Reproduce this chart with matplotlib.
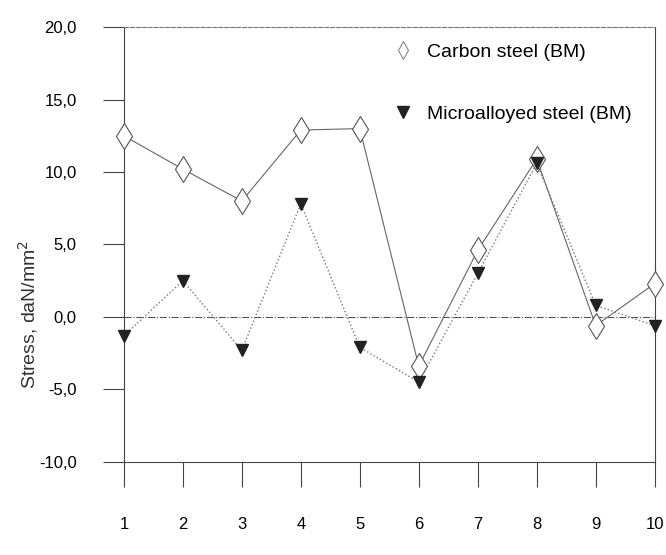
import matplotlib.pyplot as plt
from matplotlib.lines import Line2D

plt.rcParams['font.family'] = ['Liberation Sans', 'DejaVu Sans']

# data
samples = [1, 2, 3, 4, 5, 6, 7, 8, 9, 10]
carbon = [12.5, 10.2, 8.0, 12.9, 13.0, -3.4, 4.6, 10.9, -0.6, 2.3]
micro = [-1.3, 2.5, -2.3, 7.8, -2.1, -4.5, 3.0, 10.6, 0.8, -0.6]
yticks = [-10, -5, 0, 5, 10, 15, 20]
ytick_labels = ['-10,0', '-5,0', '0,0', '5,0', '10,0', '15,0', '20,0']

fig = plt.figure(figsize=(6.66, 5.55), dpi=100)
ax = fig.add_axes([0.186, 0.168, 0.797, 0.783])

ax.plot(samples, carbon, color='#666666', lw=0.8, marker='d', ms=13,
        mfc='white', mec='#555555', mew=0.8, clip_on=False, zorder=3)
ax.plot(samples, micro, color='#777777', lw=1.0, ls=':', marker='v', ms=8,
        mfc='#222222', mec='#222222', clip_on=False, zorder=4)

ax.axhline(0, color='#555555', lw=0.8, ls='-.', zorder=1)

ax.set_xlim(1, 10)
ax.set_ylim(-10, 20)
ax.set_xticks(samples)
ax.set_yticks(yticks)
ax.set_yticklabels(ytick_labels)
ax.tick_params(axis='x', direction='out', length=18, width=0.8, pad=22,
               labelsize=12, color='#444444')
ax.tick_params(axis='y', direction='out', length=15, width=0.8, pad=19,
               labelsize=12, color='#444444')

for side in ['left', 'bottom', 'right']:
    ax.spines[side].set_color('#444444')
    ax.spines[side].set_linewidth(0.8)
ax.spines['top'].set_color('#777777')
ax.spines['top'].set_linestyle('--')
ax.spines['top'].set_linewidth(0.8)

ax.set_ylabel('Stress, daN/mm$^2$', fontsize=14, color='#333333')
ax.yaxis.set_label_coords(-0.158, 0.34)

handles = [
    Line2D([], [], ls='none', marker='d', ms=9, mfc='white', mec='#888888', mew=0.8),
    Line2D([], [], ls='none', marker='v', ms=8, mfc='#222222', mec='#222222'),
]
ax.legend(handles, ['Carbon steel (BM)', 'Microalloyed steel (BM)'],
          loc='upper left', bbox_to_anchor=(0.508, 0.963), frameon=False,
          fontsize=14, labelspacing=2.3, handlelength=1.0, handletextpad=0.7,
          borderpad=0, borderaxespad=0)

fig.savefig('out.png', dpi=100)
